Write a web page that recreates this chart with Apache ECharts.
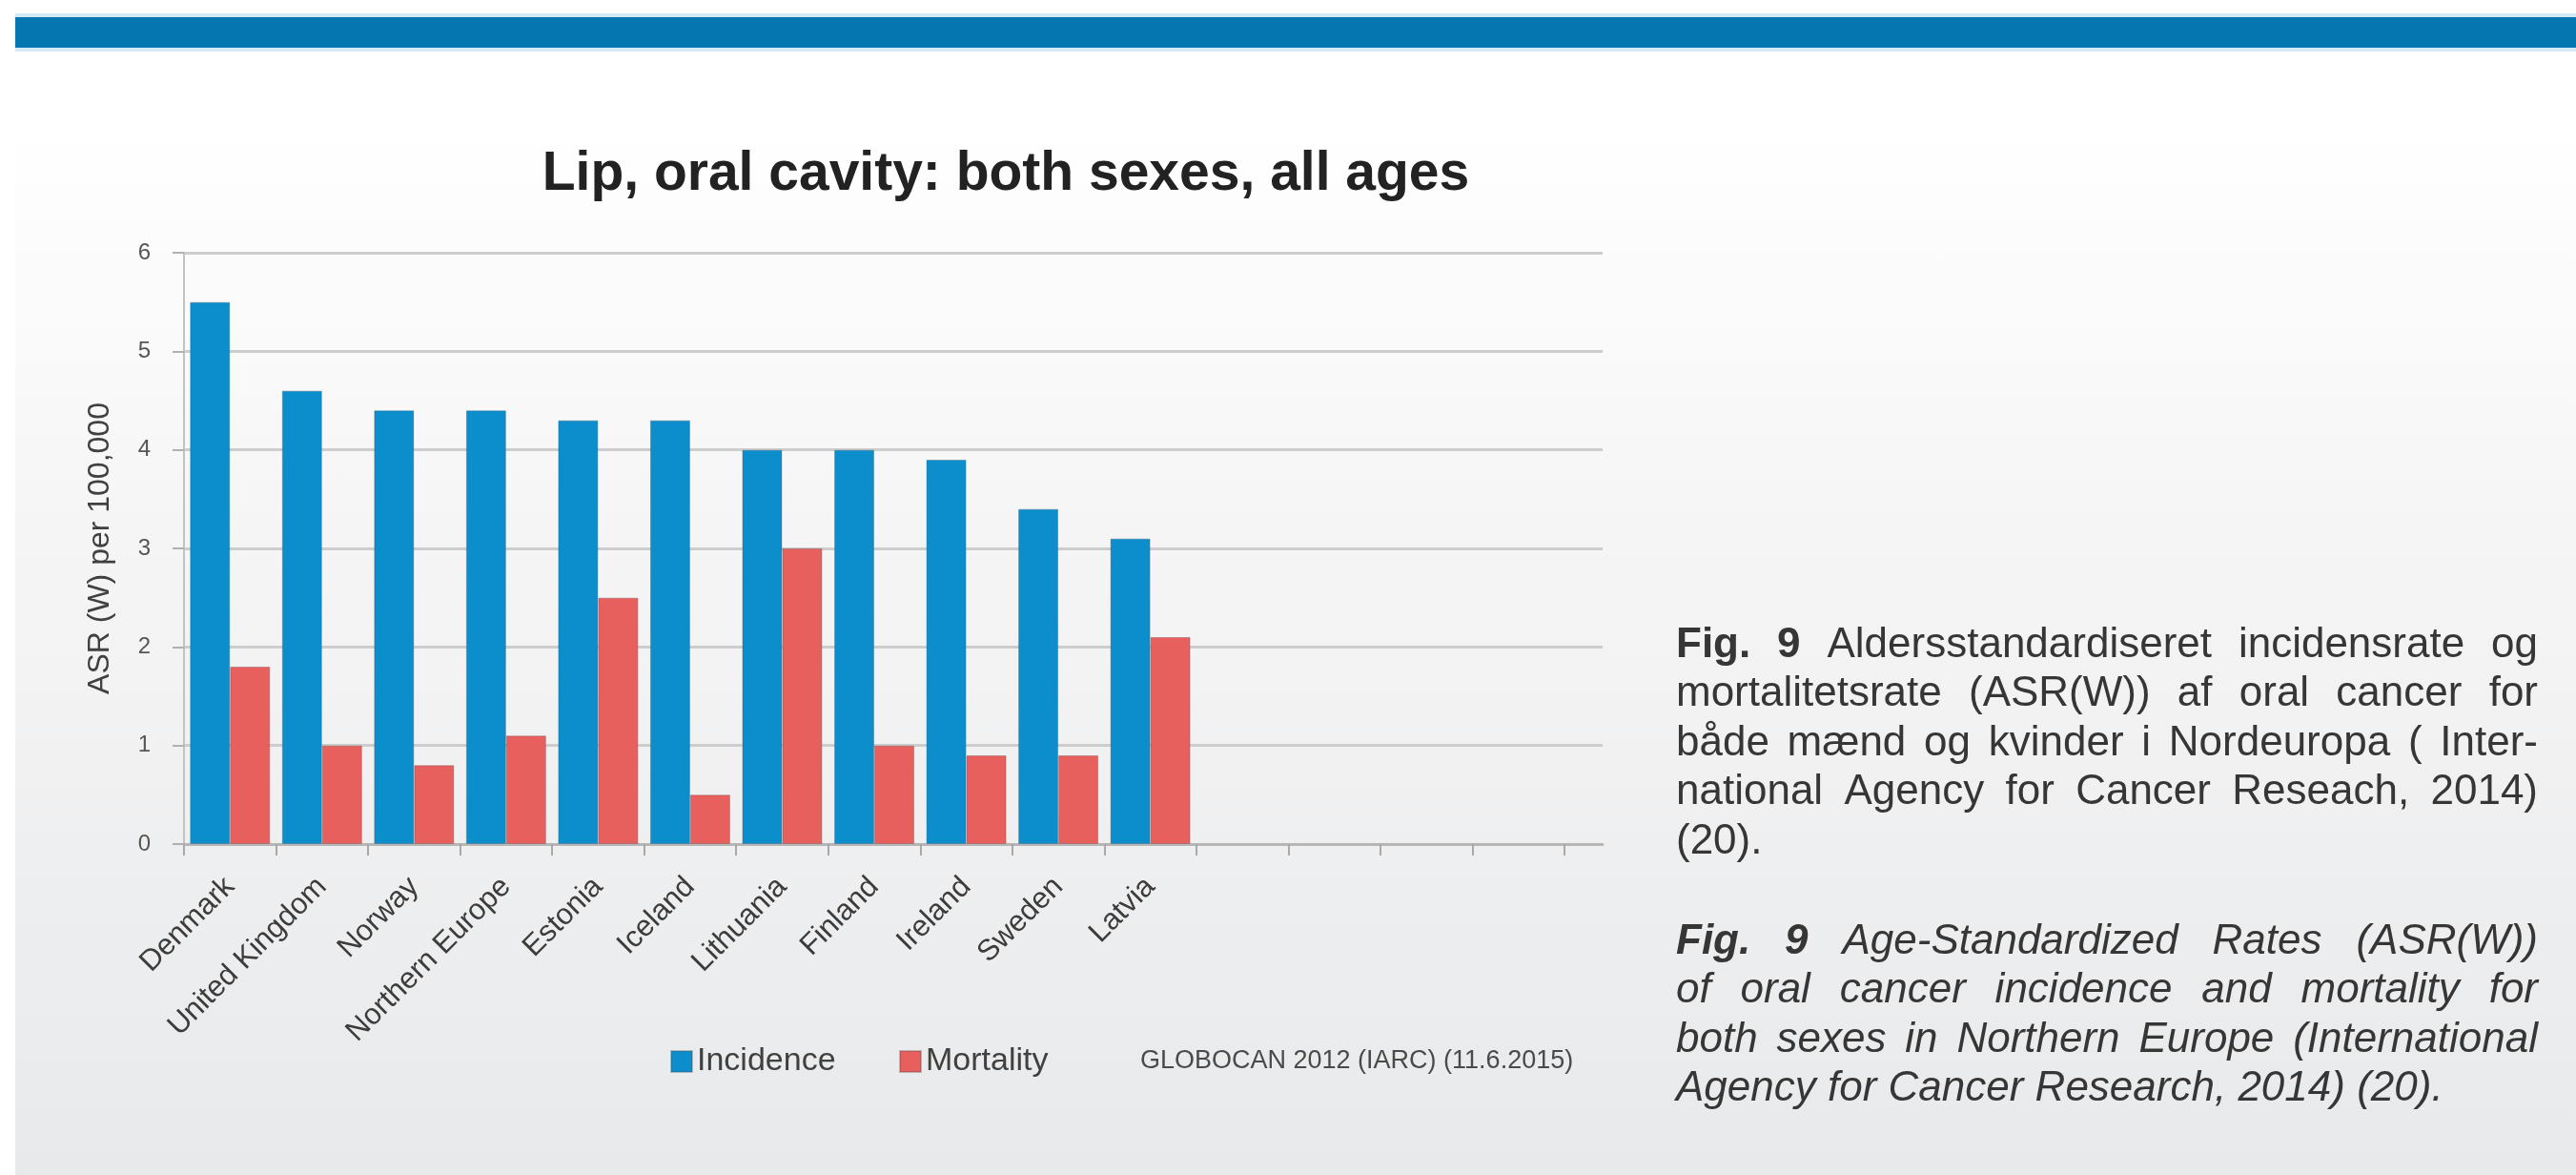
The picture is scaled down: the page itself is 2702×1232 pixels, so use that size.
<!DOCTYPE html>
<html>
<head>
<meta charset="utf-8">
<script src="https://cdn.jsdelivr.net/npm/echarts@6/dist/echarts.min.js"></script>
<style>
  html, body { margin: 0; padding: 0; background: #ffffff; }
  #chart {
    width: 2702px; height: 1232px;
    background: linear-gradient(to bottom, #ffffff 0px, #ffffff 130px, #f6f6f7 520px, #e8e9ea 1232px);
  }
</style>
</head>
<body>
<div id="chart"></div>
<script>
// ---------- data ----------
const categories = ['Denmark', 'United Kingdom', 'Norway', 'Northern Europe', 'Estonia', 'Iceland',
                    'Lithuania', 'Finland', 'Ireland', 'Sweden', 'Latvia', '', '', '', ''];
const incidence = [5.5, 4.6, 4.4, 4.4, 4.3, 4.3, 4.0, 4.0, 3.9, 3.4, 3.1];
const mortality = [1.8, 1.0, 0.8, 1.1, 2.5, 0.5, 3.0, 1.0, 0.9, 0.9, 2.1];
const yTicks = [0, 1, 2, 3, 4, 5, 6];
const seriesNames = ['Incidence', 'Mortality'];
const titleText = 'Lip, oral cavity: both sexes, all ages';
const yAxisName = 'ASR (W) per 100,000';
const sourceText = 'GLOBOCAN 2012 (IARC) (11.6.2015)';
const captionDa = [
  'Fig. 9 Aldersstandardiseret incidensrate og',
  'mortalitetsrate (ASR(W)) af oral cancer for',
  'både mænd og kvinder i Nordeuropa ( Inter-',
  'national Agency for Cancer Reseach, 2014)',
  '(20).'
];
const captionEn = [
  'Fig. 9 Age-Standardized Rates (ASR(W))',
  'of oral cancer incidence and mortality for',
  'both sexes in Northern Europe (International',
  'Agency for Cancer Research, 2014) (20).'
];

// ---------- styles ----------
const FONT = '"Liberation Sans", Arial, Helvetica, sans-serif';
const BLUE = '#0b8ecb';
const RED = '#e8605e';
const GRID_LINE = { color: '#cdcdcd', width: 3 };

const measureCtx = document.createElement('canvas').getContext('2d');
function textWidth(font, s) { measureCtx.font = font; return measureCtx.measureText(s).width; }

// justified caption paragraph built from words
function caption(lines, x0, x1, baseline0, step, fs, italic, color) {
  const els = [];
  lines.forEach((line, li) => {
    const words = line.split(' ');
    const fonts = words.map((w, wi) => {
      const bold = li === 0 && wi < 2;
      return (italic ? 'italic ' : 'normal ') + (bold ? 'bold ' : 'normal ') + fs + 'px ' + FONT;
    });
    const widths = words.map((w, i) => textWidth(fonts[i], w));
    const total = widths.reduce((a, b) => a + b, 0);
    const last = li === lines.length - 1;
    const gap = last ? textWidth(fonts[fonts.length - 1], ' ') : (x1 - x0 - total) / (words.length - 1);
    let x = x0;
    const y = baseline0 + li * step - 0.35 * fs;
    words.forEach((w, i) => {
      els.push({
        type: 'text', x: x, y: y, silent: true,
        style: { text: w, font: fonts[i], fill: color, align: 'left', verticalAlign: 'middle' }
      });
      x += widths[i] + gap;
    });
  });
  return els;
}

const legendFontSize = 34;
const legendTextW = textWidth(legendFontSize + 'px ' + FONT, seriesNames[0]);
const legendLeft = 703, legendSecond = 942, legendIcon = 22;
const legendGap = legendSecond - legendLeft - legendIcon - 5 - legendTextW;

const chart = echarts.init(document.getElementById('chart'), null, { renderer: 'canvas' });

const graphics = [
  { type: 'rect', shape: { x: 0, y: 0, width: 16, height: 1232 }, style: { fill: '#ffffff' }, silent: true },
  { type: 'rect', shape: { x: 16, y: 14, width: 2686, height: 40 }, style: { fill: '#d3e9f4' }, silent: true },
  { type: 'rect', shape: { x: 16, y: 18, width: 2686, height: 32 }, style: { fill: '#0676b0' }, silent: true },
  {
    type: 'text', x: 1196, y: 1113, silent: true,
    style: { text: sourceText, font: '27px ' + FONT, fill: '#4a4a4a', align: 'left', verticalAlign: 'middle' }
  }
].concat(caption(captionDa, 1758, 2662, 692, 51.5, 44, false, '#363636'))
 .concat(caption(captionEn, 1758, 2662, 1003, 51.5, 44, true, '#363636'));

const option = {
  backgroundColor: 'transparent',
  animation: false,
  title: {
    text: titleText,
    left: 1055, top: 183, padding: 0,
    textAlign: 'center', textVerticalAlign: 'middle',
    textStyle: { fontFamily: FONT, fontSize: 57, fontWeight: 'bold', color: '#222222' }
  },
  legend: {
    data: seriesNames,
    left: legendLeft, top: 1096, padding: 0,
    icon: 'rect', itemWidth: legendIcon, itemHeight: legendIcon, itemGap: legendGap,
    textStyle: { fontFamily: FONT, fontSize: legendFontSize, color: '#404040' }
  },
  grid: [
    { left: 193, right: 2702 - 1641, top: 265, bottom: 1232 - 885, containLabel: false },
    { left: 1641, right: 2702 - 1681, top: 265, bottom: 1232 - 885, containLabel: false }
  ],
  xAxis: [
    {
      type: 'category', gridIndex: 0, data: categories,
      axisLine: { show: true, lineStyle: { color: '#b6b6b6', width: 3 } },
      axisTick: { show: true, length: 12, lineStyle: { color: '#a9a9a9', width: 2 } },
      axisLabel: { interval: 0, rotate: 45, margin: 40, fontFamily: FONT, fontSize: 31, color: '#3c3c3c' }
    },
    {
      type: 'value', gridIndex: 1, min: 0, max: 1,
      axisLine: { show: true, lineStyle: { color: '#b6b6b6', width: 3 } },
      axisTick: { show: false }, axisLabel: { show: false }, splitLine: { show: false }
    }
  ],
  yAxis: [
    {
      type: 'value', gridIndex: 0,
      min: yTicks[0], max: yTicks[yTicks.length - 1], interval: yTicks[1] - yTicks[0],
      name: yAxisName, nameLocation: 'middle', nameGap: 72,
      nameTextStyle: { fontFamily: FONT, fontSize: 32, color: '#404040' },
      axisLine: { show: true, lineStyle: { color: '#c2c2c2', width: 2 } },
      axisTick: { show: true, length: 12, lineStyle: { color: '#b0b0b0', width: 2 } },
      axisLabel: { margin: 35, fontFamily: FONT, fontSize: 24, color: '#555555' },
      splitLine: { show: true, lineStyle: GRID_LINE }
    },
    {
      type: 'value', gridIndex: 1,
      min: yTicks[0], max: yTicks[yTicks.length - 1], interval: yTicks[1] - yTicks[0],
      axisLine: { show: false }, axisTick: { show: false }, axisLabel: { show: false },
      splitLine: { show: true, lineStyle: GRID_LINE }
    }
  ],
  series: [
    {
      name: seriesNames[0], type: 'bar', xAxisIndex: 0, yAxisIndex: 0, data: incidence,
      barGap: '0%', barCategoryGap: '13%',
      itemStyle: { color: BLUE, borderColor: 'rgba(60,90,110,0.35)', borderWidth: 1 }
    },
    {
      name: seriesNames[1], type: 'bar', xAxisIndex: 0, yAxisIndex: 0, data: mortality,
      barGap: '0%', barCategoryGap: '13%',
      itemStyle: { color: RED, borderColor: 'rgba(110,70,70,0.35)', borderWidth: 1 }
    }
  ],
  graphic: graphics
};
chart.setOption(option);
</script>
</body>
</html>
